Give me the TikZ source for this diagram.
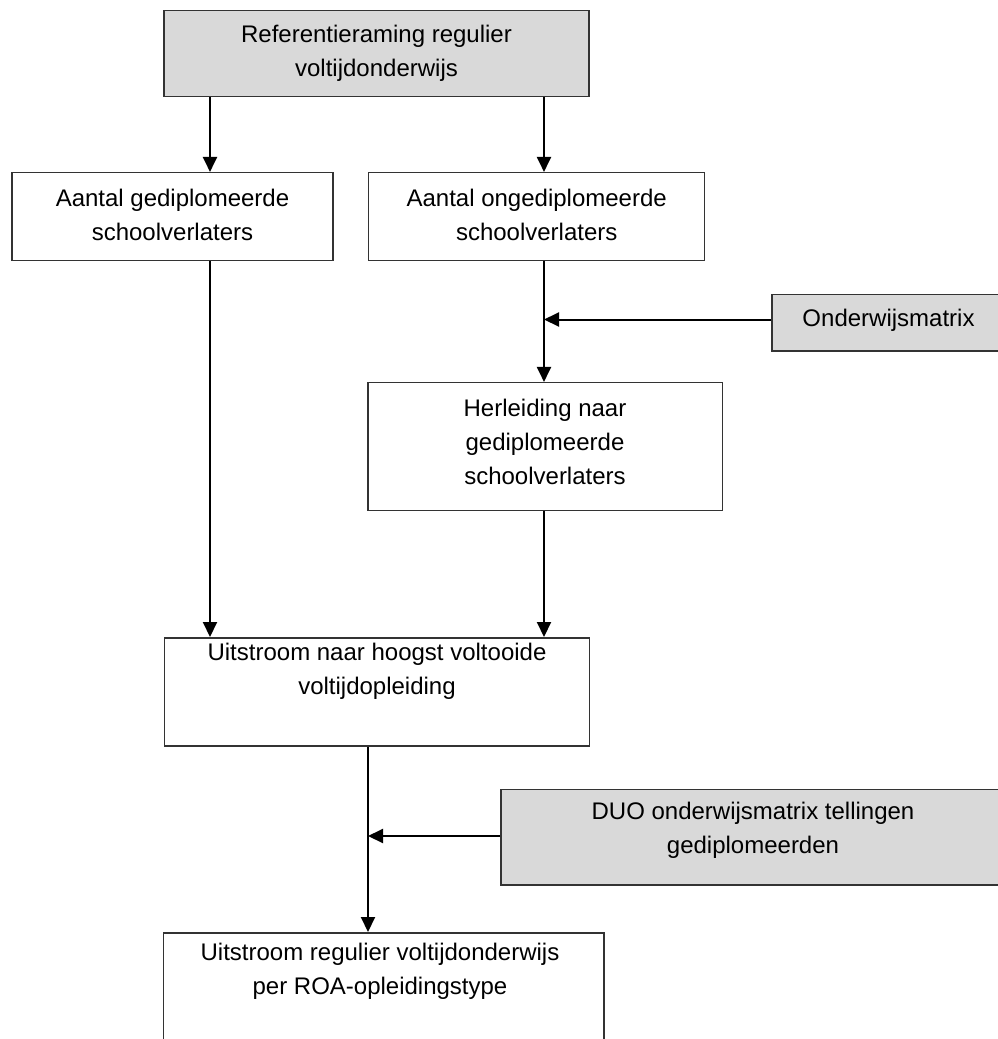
\documentclass[tikz,border=0pt]{standalone}
\usepackage{fontspec}
\setmainfont{Liberation Sans}
\usetikzlibrary{arrows.meta}
\definecolor{boxgray}{HTML}{D9D9D9}
\definecolor{edgegray}{HTML}{333333}
\tikzset{
  box/.style={draw=edgegray, line width=1.5pt, rectangle, inner sep=0pt},
  graybox/.style={box, fill=boxgray},
  txt/.style={align=center, inner sep=0pt, font=\fontsize{24}{34}\selectfont},
  arr/.style={draw=black, line width=2pt, -{Triangle[width=14pt,length=15pt]}},
}
\begin{document}
\begin{tikzpicture}[x=1pt, y=-1pt]
\useasboundingbox (0,0) rectangle (998,1039);
\fill[white] (0,0) rectangle (998,1039);
% boxes
\node[graybox, minimum width=425pt, minimum height=86pt] (b0) at (376.5,53.7) {};
\node[box, minimum width=321pt, minimum height=88pt] (b1) at (172.5,216.7) {};
\node[box, minimum width=336pt, minimum height=88pt] (b2) at (536.7,216.7) {};
\node[graybox, minimum width=233pt, minimum height=56.7pt] (b3) at (888.5,322.7) {};
\node[box, minimum width=354.3pt, minimum height=128pt] (b4) at (545.2,446.7) {};
\node[box, minimum width=424.6pt, minimum height=108.3pt] (b5) at (377,691.9) {};
\node[graybox, minimum width=504.3pt, minimum height=95.7pt] (b6) at (752.9,837.2) {};
\node[box, minimum width=440.7pt, minimum height=127.3pt] (b7) at (383.7,996.4) {};
% texts
\node[txt] (t0) at (376.5,53.7) {Referentieraming regulier\\voltijdonderwijs};
\node[txt] (t1) at (172.5,215) {Aantal gediplomeerde\\schoolverlaters};
\node[txt] (t2) at (536.7,215) {Aantal ongediplomeerde\\schoolverlaters};
\node[txt] (t3) at (888.5,320) {Onderwijsmatrix};
\node[txt] (t4) at (545,442) {Herleiding naar\\gediplomeerde\\schoolverlaters};
\node[txt] (t5) at (377,671) {Uitstroom naar hoogst voltooide\\voltijdopleiding};
\node[txt] (t6) at (753,830) {DUO onderwijsmatrix tellingen\\gediplomeerden};
\node[txt] (t7) at (380,971.5) {Uitstroom regulier voltijdonderwijs\\per ROA-opleidingstype};
% connector columns
\coordinate (cL) at (210,0);
\coordinate (cR) at (544,0);
\coordinate (cM) at (368,0);
\coordinate (j1) at (544,319.5);
\coordinate (j2) at (368,836);
% connectors
\draw[arr] (b0.south -| cL) -- (b1.north -| cL);
\draw[arr] (b0.south -| cR) -- (b2.north -| cR);
\draw[line width=2pt] (b2.south -| cR) -- (j1);
\draw[arr] (j1) -- (b4.north -| cR);
\draw[arr] (b3.west |- j1) -- (j1);
\draw[arr] (b1.south -| cL) -- (b5.north -| cL);
\draw[arr] (b4.south -| cR) -- (b5.north -| cR);
\draw[line width=2pt] (b5.south -| cM) -- (j2);
\draw[arr] (j2) -- (b7.north -| cM);
\draw[arr] (b6.west |- j2) -- (j2);
\end{tikzpicture}
\end{document}
